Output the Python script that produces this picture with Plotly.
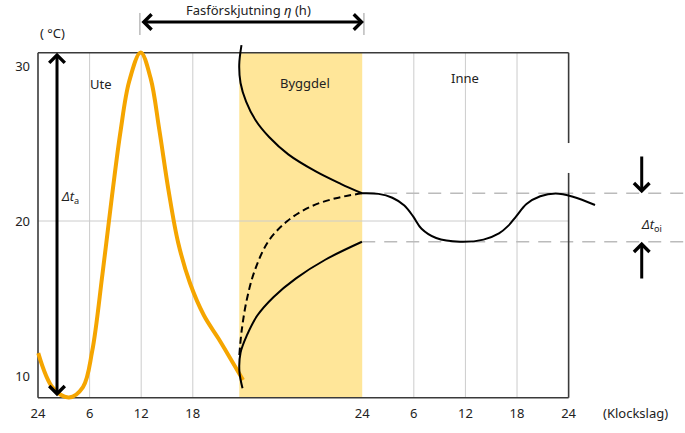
import plotly.graph_objects as go

# ---------------- data (diagram hours on x, °C on y) ----------------
ute_hours = [0.03, 1.74, 3.60, 5.23, 6.30, 7.50, 8.60, 9.60, 10.60, 11.94,
             13.10, 14.10, 15.20, 16.30, 17.67, 19.30, 21.00, 22.40, 23.84]
ute_temp = [11.48, 9.23, 8.62, 9.29, 11.60, 16.60, 21.60, 25.80, 29.00, 30.87,
            29.20, 25.90, 21.90, 18.60, 16.00, 13.90, 12.40, 11.10, 9.74]

upper_hours = [23.66, 23.40, 23.55, 24.20, 25.30, 26.90, 29.10, 32.30, 35.20, 37.67]
upper_temp = [31.35, 30.10, 28.90, 27.70, 26.50, 25.40, 24.30, 23.20, 22.40, 21.79]

dashed_hours = [23.41, 23.70, 24.27, 25.20, 26.80, 29.00, 31.60, 34.50, 37.67]
dashed_temp = [11.35, 13.00, 14.90, 16.80, 18.70, 20.00, 20.90, 21.45, 21.79]

lower_hours = [23.78, 23.42, 23.55, 24.27, 25.50, 27.40, 30.00, 33.40, 37.67]
lower_temp = [9.21, 10.30, 11.50, 12.60, 13.90, 15.10, 16.30, 17.50, 18.66]

inne_hours = [37.67, 39.60, 41.20, 42.60, 43.64, 44.60, 46.30, 49.07, 51.80,
              53.60, 54.70, 55.60, 56.80, 58.40, 60.20, 62.20, 64.77]
inne_temp = [21.79, 21.75, 21.50, 21.00, 20.28, 19.50, 18.90, 18.66, 18.80,
             19.20, 19.70, 20.30, 21.10, 21.60, 21.78, 21.57, 21.03]

inne_max = 21.79
inne_min = 18.66

tick_hours = [0, 6, 12, 18, 37.7, 43.7, 49.7, 55.7, 61.7]
tick_text = ["24", "6", "12", "18", "24", "6", "12", "18", "24"]
y_ticks = [10, 20, 30]

byggdel_start, byggdel_end = 23.4, 37.7
ute_peak_hour = 11.85
inne_end = 61.7

# ---------------- layout constants ----------------
FONT = "Noto Sans"
TXT = "#222222"
ORANGE = "#F5A500"
YELLOW = "#FFE699"
GRID = "#cccccc"
FRAME = "#3a3a3a"
F_TOP, F_BOT = 30.858, 8.60

fig = go.Figure()

fig.add_trace(go.Scatter(x=ute_hours, y=ute_temp, mode="lines",
                         line=dict(color=ORANGE, width=4, shape="spline", smoothing=1),
                         hoverinfo="skip"))
for hx, ty, dash in [(upper_hours, upper_temp, "solid"),
                     (dashed_hours, dashed_temp, "7px,4px"),
                     (lower_hours, lower_temp, "solid"),
                     (inne_hours, inne_temp, "solid")]:
    fig.add_trace(go.Scatter(x=hx, y=ty, mode="lines",
                             line=dict(color="black", width=2, shape="spline", dash=dash),
                             hoverinfo="skip"))

shapes = []
shapes.append(dict(type="rect", xref="x", yref="y", x0=byggdel_start, x1=byggdel_end,
                   y0=F_BOT, y1=F_TOP, fillcolor=YELLOW, line=dict(width=0), layer="below"))
for gx in [6, 12, 18, 43.7, 49.7, 55.7]:
    shapes.append(dict(type="line", xref="x", yref="y", x0=gx, x1=gx, y0=F_BOT, y1=F_TOP,
                       line=dict(color=GRID, width=1), layer="below"))
shapes.append(dict(type="line", xref="x", yref="y", x0=0, x1=inne_end, y0=20, y1=20,
                   line=dict(color=GRID, width=1), layer="below"))
for lv in [inne_max, inne_min]:
    shapes.append(dict(type="line", xref="x", yref="y", x0=byggdel_end, x1=76, y0=lv, y1=lv,
                       line=dict(color="#bbbbbb", width=1.5, dash="13px,9px"), layer="below"))
frame_segments = [(0, F_BOT, 0, F_TOP), (0, F_TOP, inne_end, F_TOP), (0, F_BOT, inne_end, F_BOT),
                  (inne_end, F_BOT, inne_end, 23.10), (inne_end, 25.03, inne_end, F_TOP)]
for x0, y0, x1, y1 in frame_segments:
    shapes.append(dict(type="line", xref="x", yref="y", x0=x0, y0=y0, x1=x1, y1=y1,
                       line=dict(color=FRAME, width=1.6), layer="below"))
for gx in [ute_peak_hour, 37.9]:
    shapes.append(dict(type="line", xref="x", yref="y", x0=gx, x1=gx, y0=32.0, y1=33.42,
                       line=dict(color="#999999", width=1)))

def arrow(x, y, ax, ay, both=False):
    d = dict(x=x, y=y, ax=ax, ay=ay, xref="x", yref="y", axref="x", ayref="y",
             text="", showarrow=True, arrowhead=4, arrowsize=1, arrowwidth=3,
             arrowcolor="black", standoff=0)
    if both:
        d.update(arrowside="end+start", startarrowhead=4, startarrowsize=1, startstandoff=0)
    return d

annotations = [
    arrow(2.21, F_TOP, 2.21, F_BOT, both=True),
    arrow(37.9, 32.84, ute_peak_hour, 32.84, both=True),
    arrow(70.2, inne_max, 70.2, 24.26),
    arrow(70.2, inne_min, 70.2, 16.19),
]

def label(x, y, text, size=13, xanchor="center", xref="x", yref="y"):
    return dict(x=x, y=y, xref=xref, yref=yref, text=text, showarrow=False,
                xanchor=xanchor, yanchor="middle",
                font=dict(family=FONT, size=size, color=TXT))

annotations += [
    label(7.33, 28.84, "Ute"),
    label(31.1, 28.9, "Byggdel"),
    label(49.7, 29.2, "Inne"),
    label(1.63, 32.13, "( °C)"),
    label(2.45, 21.55, "<i>Δt</i><sub>a</sub>", xanchor="left"),
    label(69.9, 19.74, "<i>Δt</i><sub>oi</sub>", xanchor="left"),
    label(24.5, 33.6, "Fasförskjutning <i>η</i> (h)"),
    label(69.5, -0.0325, "(Klockslag)", yref="paper"),
]

fig.update_layout(
    width=685, height=433,
    margin=dict(l=36, r=0, t=0, b=33, pad=0, autoexpand=False),
    paper_bgcolor="white", plot_bgcolor="white",
    showlegend=False,
    shapes=shapes, annotations=annotations,
    font=dict(family=FONT, size=13, color=TXT),
)
fig.update_xaxes(range=[-2 / 8.6, 647 / 8.6], tickvals=tick_hours, ticktext=tick_text,
                 showgrid=False, zeroline=False, showline=False, ticks="",
                 ticklabelstandoff=4, tickfont=dict(family=FONT, size=13, color=TXT),
                 fixedrange=True, automargin=False)
fig.update_yaxes(range=[8.452, 34.258], tickvals=y_ticks,
                 showgrid=False, zeroline=False, showline=False, ticks="",
                 ticklabelstandoff=5, tickfont=dict(family=FONT, size=13, color=TXT),
                 fixedrange=True, automargin=False)

fig.write_html("out.html", config={"displayModeBar": False},
               post_script="document.body.style.margin='0';document.body.style.overflow='hidden';")
